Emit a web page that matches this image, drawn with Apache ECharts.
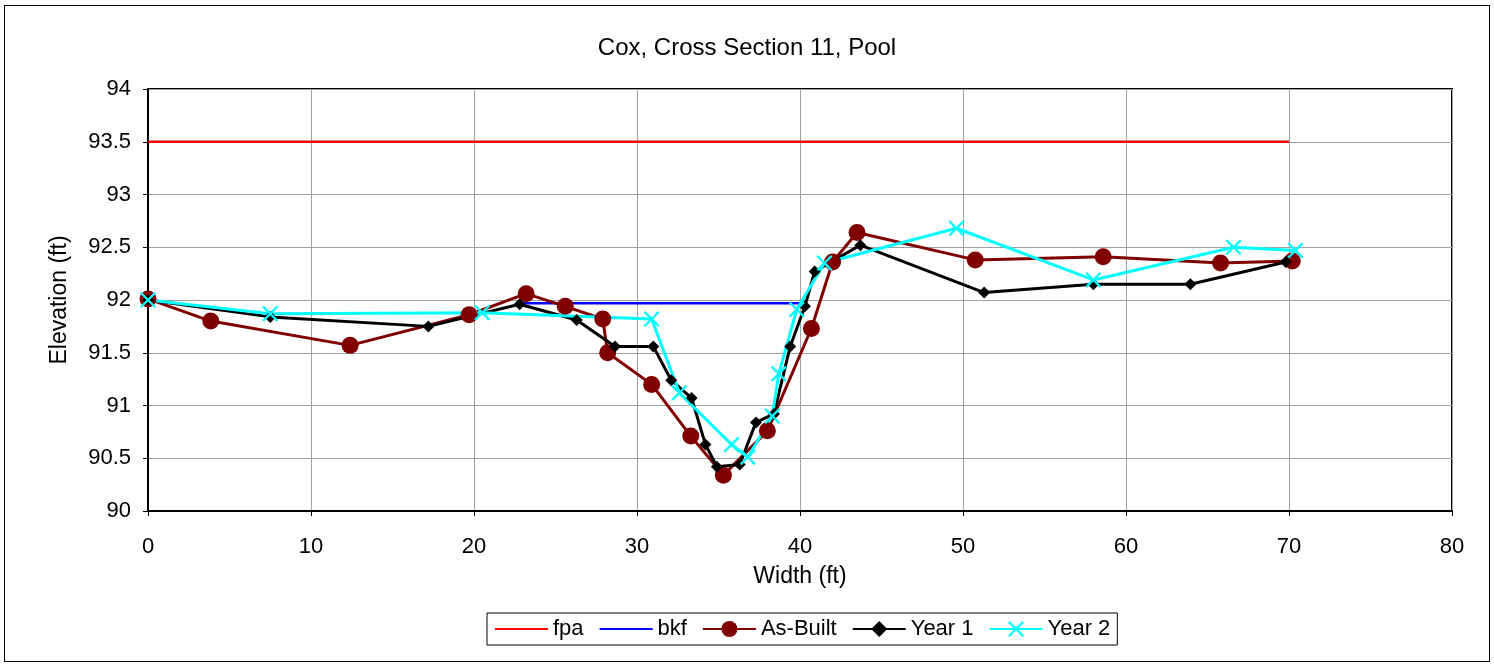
<!DOCTYPE html>
<html>
<head>
<meta charset="utf-8">
<script src="https://cdn.jsdelivr.net/npm/echarts@6/dist/echarts.min.js"></script>
<style>
html,body{margin:0;padding:0;background:#fff;}
#wrap{position:absolute;left:4px;top:5px;width:1486px;height:657px;border:1px solid #000;box-sizing:border-box;}
#chart{position:absolute;left:0;top:0;width:1494px;height:665px;}
</style>
</head>
<body>
<div id="wrap"></div>
<div id="chart"></div>
<script>
const titleText = 'Cox, Cross Section 11, Pool';
const xTicks = [0, 10, 20, 30, 40, 50, 60, 70, 80];
const yTicks = [90, 90.5, 91, 91.5, 92, 92.5, 93, 93.5, 94];

const fpa = [[0, 93.5], [70, 93.5]];
const bkf = [[23.0, 91.97], [40.0, 91.97]];
const asBuilt = [[0, 92.01], [3.85, 91.8], [12.4, 91.57], [19.7, 91.86], [23.2, 92.06], [25.6, 91.94], [27.9, 91.82], [28.2, 91.5], [30.9, 91.2], [33.3, 90.71], [35.3, 90.34], [38.0, 90.76], [40.7, 91.73], [42.0, 92.36], [43.5, 92.64], [50.75, 92.38], [58.6, 92.41], [65.8, 92.35], [70.2, 92.37]];
const year1 = [[0, 92.0], [7.5, 91.84], [17.2, 91.75], [22.8, 91.96], [26.3, 91.81], [28.65, 91.56], [31.0, 91.56], [32.1, 91.24], [33.35, 91.07], [34.2, 90.63], [34.9, 90.42], [36.3, 90.44], [37.3, 90.84], [38.4, 90.92], [39.4, 91.56], [40.3, 91.94], [40.9, 92.27], [43.7, 92.52], [51.3, 92.07], [58.0, 92.15], [63.95, 92.15], [69.8, 92.36]];
const year2 = [[0, 92.0], [7.5, 91.87], [20.5, 91.88], [30.9, 91.82], [32.6, 91.12], [35.8, 90.63], [36.8, 90.51], [38.3, 90.9], [38.7, 91.3], [39.8, 91.91], [41.5, 92.35], [49.6, 92.68], [58.0, 92.19], [66.6, 92.5], [70.4, 92.47]];

const FONT = 'Arial, "Liberation Sans", sans-serif';
const XPATH = 'path://M0,1 L1,0 L5,4 L9,0 L10,1 L6,5 L10,9 L9,10 L5,6 L1,10 L0,9 L4,5 Z';

const chart = echarts.init(document.getElementById('chart'));
chart.setOption({
  animation: false,
  backgroundColor: 'transparent',
  title: {
    text: titleText, left: 'center', top: 31,
    textStyle: {fontFamily: FONT, fontSize: 24, fontWeight: 'normal', color: '#000'}
  },
  grid: {left: 148, top: 89, right: 42, bottom: 154, show: true, borderColor: '#000', borderWidth: 2},
  legend: {
    left: 487, top: 613, orient: 'horizontal',
    borderColor: '#000', borderWidth: 1, padding: [5, 7, 5, 7],
    itemWidth: 53, itemHeight: 20, itemGap: 15,
    textStyle: {fontFamily: FONT, fontSize: 22, color: '#000'},
    data: [
      {name: 'fpa', itemStyle: {opacity: 0}},
      {name: 'bkf', itemStyle: {opacity: 0}},
      'As-Built', 'Year 1', 'Year 2'
    ]
  },
  xAxis: {
    type: 'value', min: xTicks[0], max: xTicks[xTicks.length - 1], interval: 10,
    name: 'Width (ft)', nameLocation: 'middle', nameGap: 54,
    nameTextStyle: {fontFamily: FONT, fontSize: 23, color: '#000'},
    axisLine: {show: true, lineStyle: {color: '#000', width: 2}},
    axisTick: {show: true, inside: false, length: 5, lineStyle: {color: '#000'}},
    axisLabel: {fontFamily: FONT, fontSize: 22, color: '#000', margin: 25},
    splitLine: {show: true, lineStyle: {color: '#a0a0a0', width: 1}}
  },
  yAxis: {
    type: 'value', min: yTicks[0], max: yTicks[yTicks.length - 1], interval: 0.5,
    name: 'Elevation (ft)', nameLocation: 'middle', nameGap: 77,
    nameTextStyle: {fontFamily: FONT, fontSize: 23, color: '#000'},
    axisLine: {show: true, lineStyle: {color: '#000', width: 2}},
    axisTick: {show: true, inside: false, length: 5, lineStyle: {color: '#000'}},
    axisLabel: {fontFamily: FONT, fontSize: 22, color: '#000', margin: 17},
    splitLine: {show: true, lineStyle: {color: '#a0a0a0', width: 1}}
  },
  series: [
    {name: 'fpa', type: 'line', data: fpa, symbol: 'none', lineStyle: {color: '#ff0000', width: 2.5}, itemStyle: {color: '#ff0000'}},
    {name: 'bkf', type: 'line', data: bkf, symbol: 'none', lineStyle: {color: '#0000ff', width: 2.5}, itemStyle: {color: '#0000ff'}},
    {name: 'As-Built', type: 'line', data: asBuilt, symbol: 'circle', symbolSize: 17, lineStyle: {color: '#800000', width: 3}, itemStyle: {color: '#800000'}},
    {name: 'Year 1', type: 'line', data: year1, symbol: 'diamond', symbolSize: 12, lineStyle: {color: '#000000', width: 3}, itemStyle: {color: '#000000'}},
    {name: 'Year 2', type: 'line', data: year2, symbol: XPATH, symbolSize: 16, lineStyle: {color: '#00ffff', width: 3}, itemStyle: {color: '#00ffff'}}
  ]
});
</script>
</body>
</html>
